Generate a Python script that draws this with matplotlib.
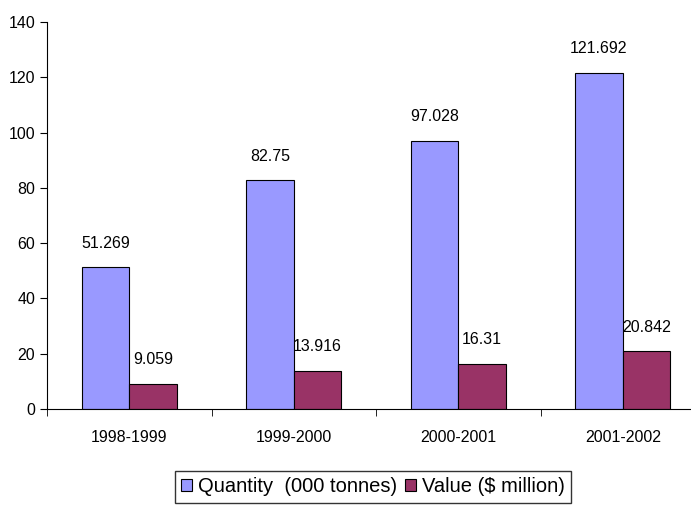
import matplotlib.pyplot as plt
import numpy as np

years = ['1998-1999', '1999-2000', '2000-2001', '2001-2002']
quantity = [51.269, 82.75, 97.028, 121.692]
value = [9.059, 13.916, 16.31, 20.842]
qty_labels = ['51.269', '82.75', '97.028', '121.692']
val_labels = ['9.059', '13.916', '16.31', '20.842']

plt.rcParams['font.family'] = ['Liberation Sans', 'DejaVu Sans']

fig = plt.figure(figsize=(6.91, 5.05), dpi=100)
ax = fig.add_axes([47/691, 96/505, 658/691, 387/505])

x = np.arange(len(years))
w = 0.29
b1 = ax.bar(x - w/2, quantity, w, color='#9999FF', edgecolor='black', linewidth=0.8,
            label='Quantity  (000 tonnes)')
b2 = ax.bar(x + w/2, value, w, color='#993366', edgecolor='black', linewidth=0.8,
            label='Value ($ million)')

for rect, lab in zip(b1, qty_labels):
    ax.text(rect.get_x() + rect.get_width()/2, rect.get_height() + 6, lab,
            ha='center', va='bottom', fontsize=11.5)
for rect, lab in zip(b2, val_labels):
    ax.text(rect.get_x() + rect.get_width()/2, rect.get_height() + 6, lab,
            ha='center', va='bottom', fontsize=11.5)

ax.set_xlim(-0.5, len(years) - 0.5)
ax.set_ylim(0, 140)
ax.set_yticks(range(0, 141, 20))
ax.set_xticks(x)
ax.set_xticklabels(years)
ax.set_xticks(np.arange(-0.5, len(years), 1), minor=True)
ax.tick_params(axis='x', which='major', length=0, pad=15, labelsize=11.5)
ax.tick_params(axis='x', which='minor', length=5, direction='out')
ax.tick_params(axis='y', length=5, direction='out', labelsize=11.5)
ax.spines['top'].set_visible(False)
ax.spines['right'].set_visible(False)

leg = fig.legend(loc='center', bbox_to_anchor=(373/691, 1 - 487/505), ncol=2,
                 fontsize=14.5, frameon=True, fancybox=False, edgecolor='black',
                 handlelength=0.55, handleheight=0.55, handletextpad=0.3,
                 columnspacing=0.4, borderpad=0.3)
leg.get_frame().set_linewidth(1.0)

fig.savefig('out.png', dpi=100)
